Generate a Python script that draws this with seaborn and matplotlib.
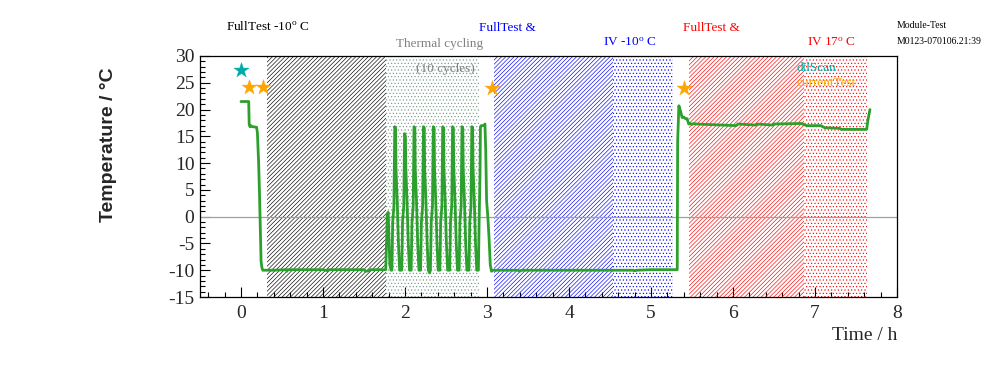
import matplotlib
matplotlib.use("Agg")
import matplotlib.pyplot as plt
import seaborn as sns
import numpy as np
import pandas as pd

# ---------------- data ----------------
time_h = [
    0.000, 0.094, 0.100, 0.110, 0.120, 0.140, 0.190, 0.200, 0.215, 0.225, 0.235, 0.245, 0.255, 0.265,
    0.400, 0.550, 0.560, 0.570, 0.800, 1.000, 1.060, 1.070, 1.500, 1.520, 1.560, 1.580, 1.765,
    1.775, 1.785, 1.795, 1.805, 1.815,
    1.830, 1.840, 1.850, 1.865, 1.875, 1.885, 1.890, 1.905, 1.920, 1.935,
    1.950, 1.960, 1.970, 1.985, 1.995, 2.005, 2.010, 2.025, 2.040, 2.055,
    2.065, 2.075, 2.085, 2.100, 2.110, 2.120, 2.125, 2.140, 2.155, 2.170,
    2.180, 2.190, 2.200, 2.215, 2.225, 2.235, 2.240, 2.255, 2.270, 2.285,
    2.300, 2.310, 2.320, 2.335, 2.345, 2.355, 2.360, 2.375, 2.390, 2.405,
    2.415, 2.425, 2.435, 2.450, 2.460, 2.470, 2.475, 2.490, 2.505, 2.520,
    2.535, 2.545, 2.555, 2.570, 2.580, 2.590, 2.595, 2.610, 2.625, 2.640,
    2.650, 2.660, 2.670, 2.685, 2.695, 2.705, 2.710, 2.725, 2.740, 2.755,
    2.770, 2.780, 2.790, 2.805, 2.815, 2.825, 2.830, 2.845, 2.860, 2.875,
    2.885, 2.895, 2.905, 2.915, 2.920, 2.930, 2.960, 2.975, 2.985, 2.995, 3.010, 3.025, 3.040, 3.055,
    3.070, 3.380, 3.400, 3.420, 4.000, 4.780, 4.800, 4.830, 5.000, 5.320,
    5.325, 5.340, 5.360, 5.380, 5.400, 5.420, 5.440, 5.460, 5.480, 5.500, 5.520, 5.550,
    6.040, 6.060, 6.280, 6.300, 6.480, 6.500, 6.840, 6.860, 6.900, 7.070, 7.120, 7.300, 7.320,
    7.630, 7.645, 7.660, 7.670,
]
temperature_c = [
    21.5, 21.5, 17.2, 16.8, 17.0, 16.8, 16.7, 15.7, 10.0, 4.7, -2.0, -8.4, -9.5, -10.0,
    -10.0, -9.9, -10.2, -9.9, -9.9, -9.9, -10.1, -9.9, -9.9, -10.2, -10.1, -9.9, -9.9,
    -5.0, 0.5, 0.8, -4.0, -9.0,
    -10.0, -10.0, -1.0, 2.0, 16.8, 16.5, 9.0, 3.0, -5.0, -10.0,
    -10.0, -10.0, -1.0, 2.0, 15.5, 15.0, 9.0, 3.0, -5.0, -10.0,
    -10.0, -10.0, -1.0, 2.0, 16.8, 16.6, 9.0, 3.0, -5.0, -10.0,
    -10.0, -10.0, -1.0, 2.0, 16.8, 16.6, 9.0, 3.0, -5.0, -10.0,
    -10.5, -10.0, -1.0, 2.0, 16.8, 16.6, 9.0, 3.0, -5.0, -10.0,
    -10.0, -10.0, -1.0, 2.0, 16.8, 16.6, 9.0, 3.0, -5.0, -10.0,
    -10.0, -10.0, -1.0, 2.0, 16.8, 16.6, 9.0, 3.0, -5.0, -10.0,
    -10.0, -10.0, -1.0, 2.0, 16.8, 16.6, 9.0, 3.0, -5.0, -10.0,
    -10.0, -10.0, -1.0, 2.0, 16.8, 16.6, 9.0, 3.0, -5.0, -10.0,
    -10.0, -10.0, 0.0, 8.0, 16.8, 17.0, 17.0, 17.3, 12.0, 3.0, 0.0, -4.0, -9.0, -10.2,
    -10.0, -10.0, -10.2, -10.0, -10.0, -10.0, -10.1, -10.0, -9.9, -9.9,
    14.1, 20.7, 19.7, 18.5, 18.6, 18.3, 18.3, 17.3, 17.4, 17.2, 17.4, 17.3,
    17.0, 17.3, 17.1, 17.3, 17.1, 17.3, 17.4, 17.2, 17.0, 17.0, 16.6, 16.5, 16.3,
    16.3, 18.0, 19.2, 20.0,
]

dtlscan_t = [0.0]
dtlscan_T = [27.4]
currenttest_t = [0.102, 0.264, 3.057, 5.408]
currenttest_T = [24.2, 24.2, 24.0, 24.0]

# test periods (start, end) in hours
periods_start = [0.32, 1.765, 3.085, 4.54, 5.465, 6.86]
periods_end = [1.765, 2.90, 4.54, 5.27, 6.86, 7.63]
periods_color = ["black", "#7a9a8a", "blue", "blue", "red", "red"]
periods_hatch = ["/" * 8, "." * 5, "/" * 8, "." * 5, "/" * 8, "." * 5]

xticks = [0, 1, 2, 3, 4, 5, 6, 7, 8]
yticks = [-15, -10, -5, 0, 5, 10, 15, 20, 25, 30]

# ---------------- style ----------------
sns.set_theme(style="white")
plt.rcParams["font.family"] = ["Liberation Serif", "DejaVu Serif"]
plt.rcParams["mathtext.fontset"] = "custom"
plt.rcParams["mathtext.rm"] = "Liberation Serif"
plt.rcParams["mathtext.it"] = "Liberation Serif:italic"
plt.rcParams["axes.unicode_minus"] = False
plt.rcParams["hatch.linewidth"] = 0.45

fig = plt.figure(figsize=(9.96, 3.72), dpi=100)
ax = fig.add_axes([200 / 996, 1 - 297 / 372, 697 / 996, 241 / 372])

for s, e, c, h in zip(periods_start, periods_end, periods_color, periods_hatch):
    ax.axvspan(s, e, facecolor="none", edgecolor=c, hatch=h, linewidth=0, zorder=1)

ax.axhline(0, color="#a0a0a0", lw=0.9, zorder=2)

df = pd.DataFrame({"t": time_h, "T": temperature_c})
sns.lineplot(data=df, x="t", y="T", estimator=None, sort=False, color="#2ca02c",
             lw=2.0, ax=ax, zorder=3)
sns.scatterplot(x=dtlscan_t, y=dtlscan_T, marker="*", s=130, color="#00aaaa",
                edgecolor="#00aaaa", linewidth=0.3, ax=ax, zorder=4)
sns.scatterplot(x=currenttest_t, y=currenttest_T, marker="*", s=130, color="#ffa500",
                edgecolor="#ffa500", linewidth=0.3, ax=ax, zorder=4)

ax.set_xlim(-0.5, 8)
ax.set_ylim(-15, 30)
ax.set_xticks(xticks)
ax.set_yticks(yticks)
ax.set_xticks(np.arange(-0.4, 8.01, 0.2), minor=True)
ax.set_yticks(np.arange(-15, 30.1, 1), minor=True)
ax.tick_params(axis="both", which="major", direction="in", length=7, width=0.8,
               labelsize=14, color="black", top=False, right=False, left=True, bottom=True)
ax.tick_params(axis="both", which="minor", direction="in", length=3.5, width=0.8,
               color="black", top=False, right=False, left=True, bottom=True)
ax.tick_params(axis="x", which="major", pad=6)
ax.tick_params(axis="y", which="major", pad=4)
for sp in ax.spines.values():
    sp.set_color("black")
    sp.set_linewidth(0.9)

ax.set_xlabel("")
ax.set_ylabel("")
fig.text(897 / 996, 1 - 335 / 372, "Time / h", ha="right", va="center", fontsize=14)
fig.text(108 / 996, 1 - 145 / 372, "Temperature / °C", rotation=90, ha="center", va="center",
         fontsize=14, fontweight="bold", family=["Liberation Sans", "DejaVu Sans"])

# top annotations
fs = 9.5
fig.text(268 / 996, 1 - 27 / 372, r"FullTest -10$^{\mathrm{o}}$ C", ha="center", va="center", fontsize=fs, color="black")
fig.text(440 / 996, 1 - 44 / 372, "Thermal cycling", ha="center", va="center", fontsize=fs, color="#808080")
fig.text(507 / 996, 1 - 28 / 372, "FullTest &", ha="center", va="center", fontsize=fs, color="blue")
fig.text(630 / 996, 1 - 43 / 372, r"IV -10$^{\mathrm{o}}$ C", ha="center", va="center", fontsize=fs, color="blue")
fig.text(711 / 996, 1 - 28 / 372, "FullTest &", ha="center", va="center", fontsize=fs, color="red")
fig.text(831 / 996, 1 - 43 / 372, r"IV 17$^{\mathrm{o}}$ C", ha="center", va="center", fontsize=fs, color="red")
fig.text(897 / 996, 1 - 26 / 372, "Module-Test", ha="left", va="center", fontsize=7, color="black")
fig.text(897 / 996, 1 - 41 / 372, "M0123-070106.21:39", ha="left", va="center", fontsize=7, color="black")

ax.text(2.49, 27.6, "(10 cycles)", ha="center", va="center", fontsize=fs, color="#808080", zorder=5)
ax.text(6.78, 27.7, "dtlScan", ha="left", va="center", fontsize=fs, color="#00aaaa", zorder=5)
ax.text(6.78, 24.9, "currentTest", ha="left", va="center", fontsize=fs, color="#ffa500", zorder=5)

fig.savefig("out.png", dpi=100)
